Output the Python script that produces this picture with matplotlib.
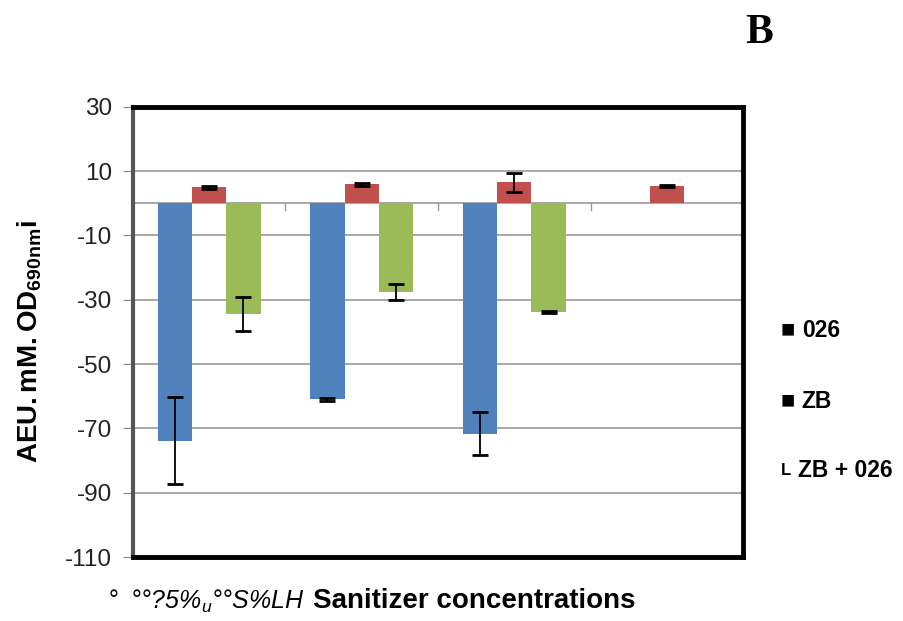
import numpy as np
import matplotlib.pyplot as plt

plt.rcParams['font.family'] = ['Liberation Sans', 'DejaVu Sans']
plt.rcParams['mathtext.fontset'] = 'custom'
plt.rcParams['mathtext.rm'] = 'Liberation Sans'
plt.rcParams['mathtext.bf'] = 'Liberation Sans:bold'
plt.rcParams['mathtext.it'] = 'Liberation Sans:italic'

# values
groups = [0, 1, 2, 3]
s026 = [-73.8, -61.0, -71.6, np.nan]
s026_err = [13.5, 0.5, 6.6, 0]
zb = [5.0, 5.9, 6.5, 5.3]
zb_err = [0.5, 0.4, 3.0, 0.3]
mix = [-34.4, -27.6, -33.8, np.nan]
mix_err = [5.2, 2.5, 0.3, 0]
yticks = [30, 10, -10, -30, -50, -70, -90, -110]

colors = ['#4F81BD', '#C0504D', '#9BBB59']
w = 0.225

fig = plt.figure(figsize=(9.04, 6.21), dpi=100)
ax = fig.add_axes([0.147, 0.103, 0.675, 0.725])

x = np.array(groups, dtype=float) + 0.5
ax.bar(x - w, s026, w, color=colors[0], zorder=3)
ax.bar(x, zb, w, color=colors[1], zorder=3)
ax.bar(x + w, mix, w, color=colors[2], zorder=3)
ekw = dict(fmt='none', ecolor='black', elinewidth=1.3, capsize=6, capthick=2, zorder=4)
ax.errorbar(x - w, s026, yerr=s026_err, **ekw)
ax.errorbar(x, zb, yerr=zb_err, **ekw)
ax.errorbar(x + w, mix, yerr=mix_err, **ekw)

ax.set_xlim(0, len(groups))
ax.set_ylim(-110, 30)
ax.set_yticks(yticks)
ax.set_yticklabels([str(t) for t in yticks], fontsize=17.5, color='#222222')
ax.set_xticks([])
ax.grid(axis='y', color='#999999', lw=1.2, zorder=1)
ax.axhline(0, color='#999999', lw=1.2, zorder=1)
# category ticks on the zero line
for b in np.array(groups[1:], dtype=float):
    ax.plot([b, b], [0, -2], color='#999999', lw=1, zorder=2)

ax.tick_params(axis='y', length=7, color='#888888', pad=8)
for s in ['top', 'bottom', 'right']:
    ax.spines[s].set_color('black')
    ax.spines[s].set_linewidth(3.5)
ax.spines['left'].set_color('#555555')
ax.spines['left'].set_linewidth(3)

fig.text(0.033, 0.45, r'$\mathbf{AEU.mM.OD_{690nm}}$' + 'i', fontsize=20, fontweight='bold',
         rotation=90, ha='center', va='center')

fig.text(0.824, 0.947, 'B', fontsize=30, fontweight='bold', family='Liberation Serif', va='center')

fig.text(0.863, 0.468, '■', fontsize=17, fontweight='bold', va='center')
fig.text(0.887, 0.468, '026', fontsize=16.5, fontweight='bold', va='center')
fig.text(0.863, 0.354, '■', fontsize=17, fontweight='bold', va='center')
fig.text(0.887, 0.354, 'ZB', fontsize=16.5, fontweight='bold', va='center')
fig.text(0.864, 0.243, 'L', fontsize=12, fontweight='bold', va='center')
fig.text(0.883, 0.243, 'ZB + 026', fontsize=16.5, fontweight='bold', va='center')

fig.text(0.118, 0.032, r'°  °°?5%$_u$°°S%LH', fontsize=18, style='italic', va='center')
fig.text(0.346, 0.032, 'Sanitizer concentrations', fontsize=20, fontweight='bold', va='center')

fig.savefig('out.png', dpi=100)
